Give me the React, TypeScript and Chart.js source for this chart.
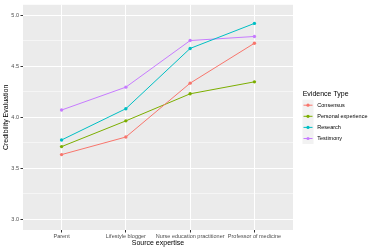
import React, { useEffect, useRef } from "react";
import { Chart, registerables } from "chart.js";

Chart.register(...registerables);

const categories = ["Parent", "Lifestyle blogger", "Nurse education practitioner", "Professor of medicine"];
const seriesNames = ["Consensus", "Personal experience", "Research", "Testimony"];
const seriesColors = ["#F8766D", "#7CAE00", "#00BFC4", "#C77CFF"];
const consensus = [3.634, 3.806, 4.333, 4.724];
const personalExperience = [3.712, 3.964, 4.229, 4.346];
const research = [3.777, 4.083, 4.673, 4.918];
const testimony = [4.07, 4.294, 4.75, 4.79];
const yTicks = [3.0, 3.25, 3.5, 3.75, 4.0, 4.25, 4.5, 4.75, 5.0];
const xTicks = [0, 1, 2, 3];

const FONT = "'Liberation Sans', Arial, sans-serif";

export default function App() {
  const ref = useRef<HTMLCanvasElement | null>(null);
  useEffect(() => {
    if (!ref.current) return;
    const values = [consensus, personalExperience, research, testimony];
    const panelPlugin = {
      id: "panel",
      beforeDraw(chart: any) {
        const { ctx, chartArea } = chart;
        ctx.save();
        ctx.fillStyle = "#EBEBEB";
        ctx.fillRect(chartArea.left, chartArea.top, chartArea.right - chartArea.left, chartArea.bottom - chartArea.top);
        ctx.restore();
      },
      afterDraw(chart: any) {
        const { ctx, chartArea } = chart;
        ctx.save();
        // axis titles
        ctx.fillStyle = "#000";
        ctx.font = `7px ${FONT}`;
        ctx.textAlign = "center";
        ctx.textBaseline = "middle";
        ctx.fillText("Source expertise", (chartArea.left + chartArea.right) / 2, 243.5);
        ctx.save();
        ctx.translate(6, (chartArea.top + chartArea.bottom) / 2);
        ctx.rotate(-Math.PI / 2);
        ctx.fillText("Credibility Evaluation", 0, 0);
        ctx.restore();
        // legend
        ctx.textAlign = "left";
        ctx.fillText("Evidence Type", 302.7, 94);
        const rowH = 11.1;
        const y0 = 105.2;
        ctx.fillStyle = "#F2F2F2";
        ctx.fillRect(302.5, y0 - rowH / 2, 11, rowH * 4);
        ctx.font = `5.5px ${FONT}`;
        seriesNames.forEach((name, i) => {
          const y = y0 + i * rowH;
          ctx.strokeStyle = seriesColors[i];
          ctx.lineWidth = 1;
          ctx.beginPath();
          ctx.moveTo(303.5, y);
          ctx.lineTo(312.5, y);
          ctx.stroke();
          ctx.fillStyle = seriesColors[i];
          ctx.beginPath();
          ctx.arc(308, y, 1.6, 0, Math.PI * 2);
          ctx.fill();
          ctx.fillStyle = "#000";
          ctx.fillText(name, 317.3, y);
        });
        ctx.restore();
      },
    };
    const chart = new Chart(ref.current, {
      type: "line",
      data: {
        datasets: seriesNames.map((name, i) => ({
          label: name,
          data: values[i].map((v, j) => ({ x: j, y: v })),
          borderColor: seriesColors[i],
          backgroundColor: seriesColors[i],
          borderWidth: 1,
          pointRadius: 1.7,
          pointBorderWidth: 0,
          fill: false,
          tension: 0,
        })),
      },
      options: {
        animation: false,
        responsive: false,
        maintainAspectRatio: false,
        layout: { padding: { left: 0, right: 81, top: 3, bottom: 0 } },
        plugins: { legend: { display: false }, tooltip: { enabled: false } },
        scales: {
          x: {
            type: "linear",
            min: -0.6,
            max: 3.6,
            afterBuildTicks: (axis: any) => {
              axis.ticks = xTicks.map((v) => ({ value: v }));
            },
            afterFit: (axis: any) => {
              axis.height = 20;
            },
            border: { display: false },
            grid: {
              color: "#FFFFFF",
              lineWidth: 1,
              drawTicks: true,
              tickLength: 2.5,
              tickColor: "#333333",
            },
            ticks: {
              autoSkip: false,
              maxRotation: 0,
              padding: 1,
              color: "#4D4D4D",
              font: { family: FONT, size: 5.5 },
              callback: (v: any) => categories[Math.round(Number(v))] ?? "",
            },
          },
          y: {
            type: "linear",
            min: 2.896,
            max: 5.1,
            afterBuildTicks: (axis: any) => {
              axis.ticks = yTicks.map((v) => ({ value: v }));
            },
            afterFit: (axis: any) => {
              axis.width = 23;
            },
            border: { display: false },
            grid: {
              color: "#FFFFFF",
              lineWidth: (c: any) => (Math.abs((c.tick?.value ?? 0) * 2 - Math.round((c.tick?.value ?? 0) * 2)) < 1e-6 ? 1 : 0.5),
              drawTicks: true,
              tickLength: 2.5,
              tickColor: (c: any) => (Math.abs((c.tick?.value ?? 0) * 2 - Math.round((c.tick?.value ?? 0) * 2)) < 1e-6 ? "#333333" : "rgba(0,0,0,0)"),
            },
            ticks: {
              autoSkip: false,
              padding: 1.5,
              color: "#4D4D4D",
              font: { family: FONT, size: 5.5 },
              callback: (v: any) => {
                const n = Number(v);
                return Math.abs(n * 2 - Math.round(n * 2)) < 1e-6 ? n.toFixed(1) : "";
              },
            },
          },
        },
      },
      plugins: [panelPlugin],
    } as any);
    return () => chart.destroy();
  }, []);
  return (
    <div style={{ position: "fixed", left: 0, top: 0, width: 374, height: 250, background: "#fff" }}>
      <canvas ref={ref} width={374} height={250} style={{ width: 374, height: 250, display: "block" }} />
    </div>
  );
}
